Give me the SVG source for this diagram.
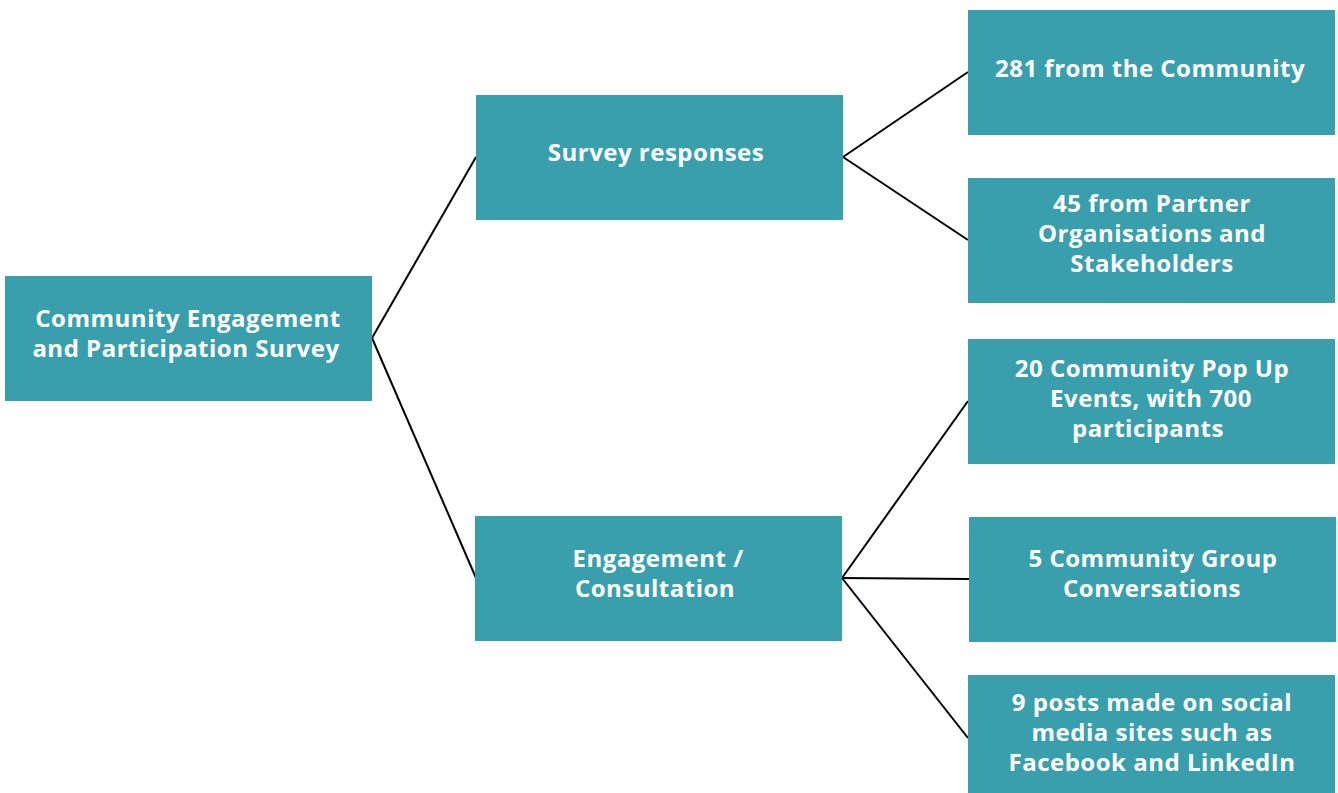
<svg xmlns="http://www.w3.org/2000/svg" width="1338" height="793" viewBox="0 0 1338 793">
  <style>
    .box { fill: #3a9fad; }
    .lbl { font-family: "Open Sans", "Noto Sans", "Liberation Sans", sans-serif; font-weight: 700; font-size: 24px; letter-spacing: 0.5px; fill: #ffffff; text-anchor: middle; }
    .edge { stroke: #000000; stroke-width: 2; fill: none; }
  </style>
  <rect width="1338" height="793" fill="#ffffff"/>

  <!-- connectors -->
  <g id="connectors">
    <line class="edge" x1="372" y1="338" x2="476" y2="157"/>
    <line class="edge" x1="372" y1="338" x2="476" y2="578"/>
    <line class="edge" x1="843" y1="157" x2="968" y2="72"/>
    <line class="edge" x1="843" y1="157" x2="968" y2="240"/>
    <line class="edge" x1="842" y1="578" x2="968" y2="401"/>
    <line class="edge" x1="842" y1="578" x2="969" y2="579"/>
    <line class="edge" x1="842" y1="578" x2="968" y2="738"/>
  </g>

  <!-- root -->
  <g id="survey-root">
    <rect class="box" x="5" y="276" width="367" height="125"/>
    <text class="lbl" x="188" y="327">Community Engagement</text>
    <text class="lbl" x="186" y="357">and Participation Survey</text>
  </g>

  <!-- second level -->
  <g id="survey-responses">
    <rect class="box" x="476" y="95" width="367" height="125"/>
    <text class="lbl" x="656" y="161">Survey responses</text>
  </g>
  <g id="engagement">
    <rect class="box" x="475" y="516" width="367" height="125"/>
    <text class="lbl" x="658" y="567">Engagement /</text>
    <text class="lbl" x="655" y="597">Consultation</text>
  </g>

  <!-- leaves -->
  <g id="community-281">
    <rect class="box" x="968" y="10" width="367" height="125"/>
    <text class="lbl" x="1150" y="77">281 from the Community</text>
  </g>
  <g id="partners-45">
    <rect class="box" x="968" y="178" width="367" height="125"/>
    <text class="lbl" x="1152" y="212">45 from Partner</text>
    <text class="lbl" x="1152" y="242">Organisations and</text>
    <text class="lbl" x="1152" y="272">Stakeholders</text>
  </g>
  <g id="popup-events">
    <rect class="box" x="968" y="339" width="367" height="125"/>
    <text class="lbl" x="1152" y="377">20 Community Pop Up</text>
    <text class="lbl" x="1151" y="407">Events, with 700</text>
    <text class="lbl" x="1148" y="437">participants</text>
  </g>
  <g id="group-conversations">
    <rect class="box" x="969" y="517" width="367" height="125"/>
    <text class="lbl" x="1153" y="567">5 Community Group</text>
    <text class="lbl" x="1152" y="597">Conversations</text>
  </g>
  <g id="social-posts">
    <rect class="box" x="968" y="675" width="367" height="118"/>
    <text class="lbl" x="1152" y="711">9 posts made on social</text>
    <text class="lbl" x="1152" y="741">media sites such as</text>
    <text class="lbl" x="1152" y="771">Facebook and LinkedIn</text>
  </g>
</svg>
